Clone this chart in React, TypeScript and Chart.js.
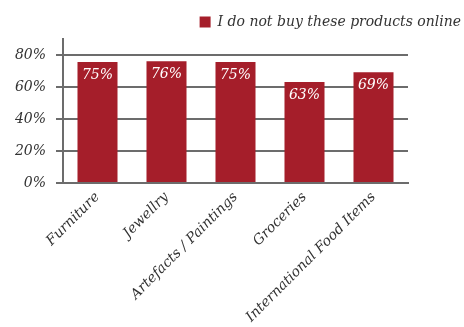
import React, { useEffect, useRef } from "react";
import { Chart, registerables } from "chart.js";

Chart.register(...registerables);

const categories = ["Furniture", "Jewellry", "Artefacts / Paintings", "Groceries", "International Food Items"];
const values = [75.6, 76.1, 75.7, 63.1, 69.2];
const valueLabels = ["75%", "76%", "75%", "63%", "69%"];
const yTicks = [0, 20, 40, 60, 80];
const seriesName = "I do not buy these products online";

const FONT = "'DejaVu Serif', serif";
const BAR = "#A51E2A";
const GRID = "#6c6c6c";

export default function App() {
  const ref = useRef<HTMLCanvasElement>(null);
  useEffect(() => {
    document.body.style.margin = "0";
    const labelPlugin = {
      id: "valueLabels",
      afterDatasetsDraw(chart: any) {
        const ctx = chart.ctx;
        const meta = chart.getDatasetMeta(0);
        ctx.save();
        ctx.fillStyle = "#ffffff";
        ctx.font = `italic 14px ${FONT}`;
        ctx.textAlign = "center";
        ctx.textBaseline = "middle";
        meta.data.forEach((bar: any, i: number) => {
          ctx.fillText(valueLabels[i], bar.x, bar.y + 13);
        });
        ctx.restore();
      },
    };
    const chart = new Chart(ref.current!, {
      type: "bar",
      data: {
        labels: categories,
        datasets: [
          {
            label: seriesName,
            data: values,
            backgroundColor: BAR,
            barPercentage: 0.58,
            categoryPercentage: 1,
          },
        ],
      },
      options: {
        animation: false,
        responsive: false,
        layout: { padding: { left: 0, right: -9, top: 3, bottom: 0 } },
        plugins: {
          tooltip: { enabled: false },
          legend: {
            position: "top",
            align: "end",
            labels: {
              boxWidth: 11,
              boxHeight: 11,
              color: "#333333",
              font: { family: FONT, style: "italic", size: 14 },
              padding: 12,
            },
          },
        },
        scales: {
          x: {
            grid: { display: false, drawTicks: false },
            border: { display: true, color: GRID, width: 2 },
            ticks: {
              color: "#333333",
              font: { family: FONT, style: "italic", size: 14 },
              maxRotation: 45,
              minRotation: 45,
              padding: 6,
            },
            afterFit(scale: any) {
              scale.height = 144;
            },
          },
          y: {
            min: 0,
            max: 90,
            afterBuildTicks(scale: any) {
              scale.ticks = yTicks.map((v) => ({ value: v }));
            },
            grid: { color: GRID, lineWidth: 2, tickLength: 7, drawTicks: true },
            border: { display: true, color: GRID, width: 2 },
            ticks: {
              color: "#333333",
              font: { family: FONT, style: "italic", size: 14 },
              padding: 10,
              callback: (v: any) => v + "%",
            },
            afterFit(scale: any) {
              scale.width = 63;
            },
          },
          spacer: {
            type: "linear",
            position: "right",
            display: true,
            grid: { display: false, drawTicks: false },
            border: { display: false },
            ticks: { display: false },
            afterFit(scale: any) {
              scale.width = 65;
            },
          },
        },
      },
      plugins: [labelPlugin],
    });
    return () => chart.destroy();
  }, []);
  return (
    <div style={{ width: 464, height: 327 }}>
      <canvas ref={ref} width={464} height={327} style={{ display: "block" }} />
    </div>
  );
}
